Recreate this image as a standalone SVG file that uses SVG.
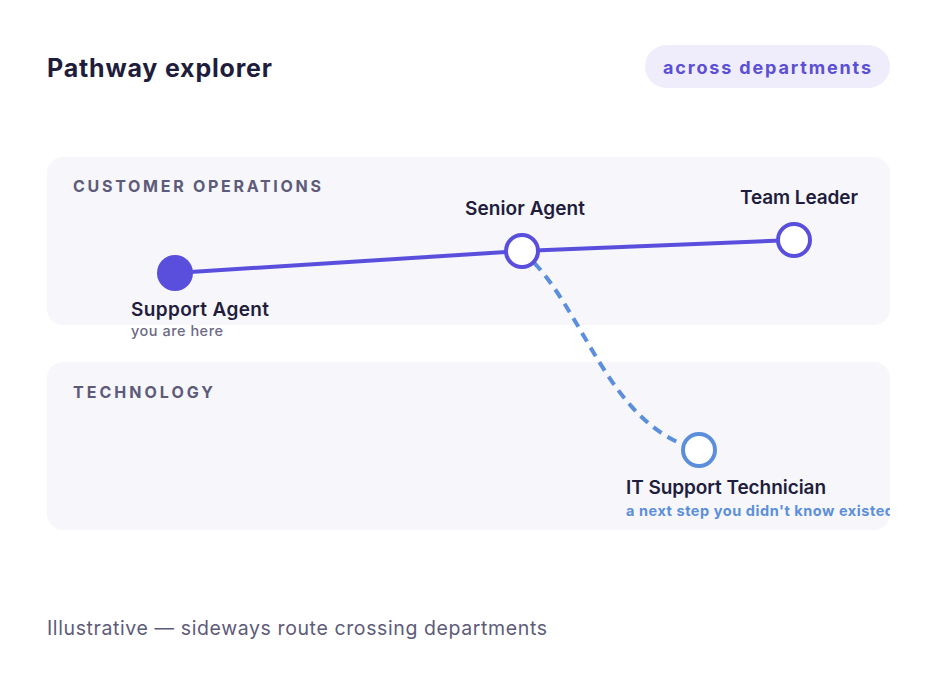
<svg xmlns="http://www.w3.org/2000/svg" width="938" height="689" viewBox="0 0 938 689">
<style>
text{font-family:Inter,"Noto Sans","Liberation Sans",sans-serif}
.title{font-size:25px;font-weight:700;fill:#1f1d3d}
.pill{font-size:18px;font-weight:700;fill:#5b4fd6}
.lane{font-size:16px;font-weight:700;fill:#5d5b7a}
.name{font-size:19px;font-weight:600;fill:#1f1d3d}
.sub{font-size:14.5px;font-weight:500;fill:#6c6a85}
.subb{font-size:14.5px;font-weight:700;fill:#5b8fdc}
.foot{font-size:19.5px;font-weight:400;fill:#5d5b7a}
.panel{fill:#f6f6fb}
.hollow{fill:#ffffff;stroke:#5a4fdc;stroke-width:4}
</style>
<defs>
<clipPath id="clipTech"><rect x="47" y="362" width="843" height="168" rx="16"/></clipPath>
</defs>
<rect width="938" height="689" fill="#ffffff"/>
<text class="title" x="47" y="77" textLength="225">Pathway explorer</text>
<g id="badge">
<rect x="645" y="45" width="245" height="43" rx="21.5" fill="#efedfc"/>
<text class="pill" x="663" y="74" textLength="208">across departments</text>
</g>
<g id="lane-customer">
<rect class="panel" x="47" y="157" width="843" height="168" rx="16"/>
<text class="lane" x="73" y="192" textLength="248">CUSTOMER OPERATIONS</text>
</g>
<g id="lane-technology">
<rect class="panel" x="47" y="362" width="843" height="168" rx="16"/>
<text class="lane" x="73" y="398" textLength="140">TECHNOLOGY</text>
</g>
<g id="connectors">
<polyline points="175,273 522,251 794,240" fill="none" stroke="#5a4fdc" stroke-width="4"/>
<path d="M522 251 C585 305 605 425 699 450" fill="none" stroke="#5b8fdc" stroke-width="4" stroke-dasharray="10 7"/>
</g>
<g id="support-agent">
<circle cx="175" cy="273" r="18" fill="#5a4fdc"/>
<text class="name" x="131" y="316" textLength="138">Support Agent</text>
<text class="sub" x="131" y="336" textLength="92">you are here</text>
</g>
<g id="senior-agent">
<circle class="hollow" cx="522" cy="251" r="16"/>
<text class="name" x="465" y="215" textLength="120">Senior Agent</text>
</g>
<g id="team-leader">
<circle class="hollow" cx="794" cy="240" r="16"/>
<text class="name" x="740" y="204" textLength="118">Team Leader</text>
</g>
<g id="it-support">
<circle cx="699" cy="450" r="16" fill="#ffffff" stroke="#5b8fdc" stroke-width="4"/>
<text class="name" x="626" y="494" textLength="200">IT Support Technician</text>
<text class="subb" x="626" y="516" textLength="268" clip-path="url(#clipTech)">a next step you didn't know existed</text>
</g>
<text class="foot" x="47" y="635" textLength="500">Illustrative — sideways route crossing departments</text>
</svg>
